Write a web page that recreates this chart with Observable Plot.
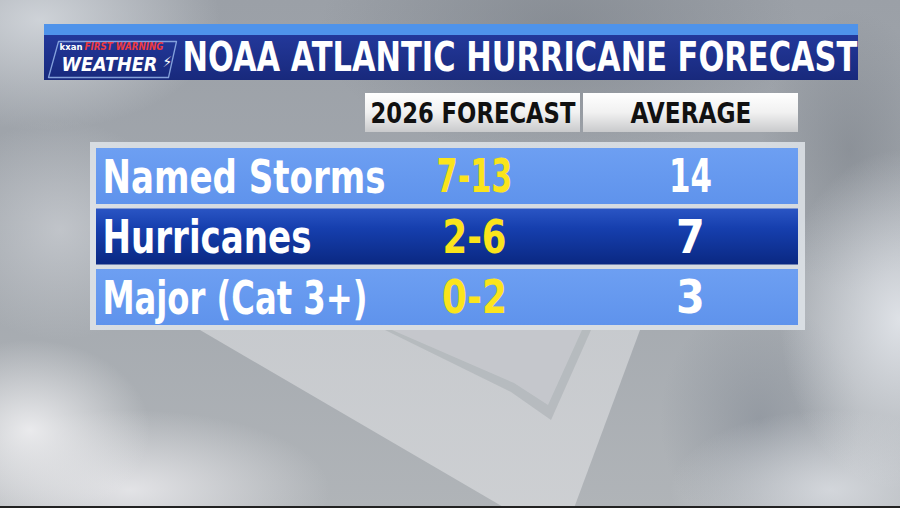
<!DOCTYPE html>
<html><head><meta charset="utf-8">
<script src="https://cdn.jsdelivr.net/npm/d3@7"></script>
<script src="https://cdn.jsdelivr.net/npm/@observablehq/plot@0.6"></script>
<style>
html,body{margin:0;padding:0;width:900px;height:508px;overflow:hidden;}
body{
  position:relative;
  background:
    radial-gradient(ellipse 120px 90px at 30px 430px, rgba(240,240,242,0.9), rgba(240,240,242,0) 100%),
    radial-gradient(ellipse 200px 80px at 130px 490px, rgba(232,232,235,0.9), rgba(232,232,235,0) 100%),
    radial-gradient(ellipse 120px 170px at 900px 320px, rgba(232,235,240,0.85), rgba(232,235,240,0) 100%),
    radial-gradient(ellipse 160px 80px at 830px 490px, rgba(220,223,228,0.8), rgba(220,223,228,0) 100%),
    radial-gradient(ellipse 180px 110px at 40px 20px, rgba(215,219,224,0.85), rgba(215,219,224,0) 100%),
    radial-gradient(ellipse 120px 110px at 60px 230px, rgba(205,208,213,0.7), rgba(205,208,213,0) 100%),
    radial-gradient(ellipse 240px 130px at 560px 30px, rgba(110,116,124,0.45), rgba(110,116,124,0) 100%),
    radial-gradient(ellipse 90px 140px at 850px 150px, rgba(110,116,124,0.4), rgba(110,116,124,0) 100%),
    radial-gradient(ellipse 100px 120px at 760px 420px, rgba(120,128,140,0.45), rgba(120,128,140,0) 100%),
    linear-gradient(180deg,#9ba0a7 0%,#a3a8ae 50%,#b0b4b8 100%);
}
.pane{position:absolute;left:0;top:0;width:900px;height:508px;}
#pane1{background:linear-gradient(180deg,rgba(200,203,207,0.75),rgba(210,212,215,0.85));clip-path:polygon(200px 330px,640px 330px,574px 508px,505px 508px);}
#pane2{background:rgba(178,182,186,0.8);clip-path:polygon(385px 330px,591px 330px,551px 420px,511px 392px);}
#pane3{background:rgba(198,201,205,0.9);clip-path:polygon(392px 330px,582px 330px,548px 405px,514px 383px);}
#bottomline{position:absolute;left:0;top:506px;width:900px;height:2px;background:#222;}
#chart{position:absolute;left:0;top:0;}
</style></head>
<body>
<div class="pane" id="pane1"></div><div class="pane" id="pane2"></div><div class="pane" id="pane3"></div>
<div id="bottomline"></div>
<div id="chart"></div>
<script>
// ---- data ----
const title = "NOAA ATLANTIC HURRICANE FORECAST";
const columns = ["2026 FORECAST", "AVERAGE"];
const categories = ["Named Storms", "Hurricanes", "Major (Cat 3+)"];
const forecast = ["7-13", "2-6", "0-2"];
const average = [14, 7, 3];
const logoSmall = ["kxan", "FIRST WARNING"];
const logoMain = "WEATHER";

// ---- layout ----
const L = {
  header: {x1: 44, x2: 858, y1: 24, yMid: 35, y2: 80},
  colBox: [{x1: 365, x2: 580}, {x1: 583, x2: 798}], colY1: 93, colY2: 132,
  frame: {x1: 90, x2: 805, y1: 142, y2: 330},
  rowX1: 96, rowX2: 798, rowTop: 148, rowStep: 60.5, rowH: 56,
  labelX: 102, forecastX: 474, averageX: 690
};
const F = "'DejaVu Sans Condensed', 'Liberation Sans', sans-serif";

const rows = categories.map((c, i) => ({
  category: c, forecast: forecast[i], average: String(average[i]), i,
  y1: L.rowTop + i * L.rowStep, y2: L.rowTop + i * L.rowStep + L.rowH,
  yc: L.rowTop + i * L.rowStep + L.rowH / 2 + 1,
  fill: i === 1 ? "url(#darkRow)" : "url(#lightRow)"
}));
const cols = columns.map((c, i) => ({name: c, ...L.colBox[i], xc: (L.colBox[i].x1 + L.colBox[i].x2) / 2}));
const logoEdge = [[58, 41], [176, 41], [168, 77], [48, 77], [58, 41]];

const chart = Plot.plot({
  width: 900, height: 508, margin: 0,
  x: {domain: [0, 900], range: [0, 900], axis: null},
  y: {domain: [0, 508], range: [0, 508], axis: null},
  style: {background: "transparent", fontFamily: F},
  marks: [
    // header bar
    Plot.rect([L.header], {x1: "x1", x2: "x2", y1: "y1", y2: "yMid", fill: "#4f93ea"}),
    Plot.rect([L.header], {x1: "x1", x2: "x2", y1: "yMid", y2: "y2", fill: "url(#headBar)"}),
    // logo
    Plot.line(logoEdge, {x: d => d[0], y: d => d[1], stroke: "#9dbdf0", strokeWidth: 1.3, strokeOpacity: 0.8}),
    Plot.text([logoSmall[0]], {x: 59, y: 46, text: d => d, fill: "white", fontSize: 9.5, fontWeight: "bold", textAnchor: "start"}),
    Plot.text([logoSmall[1]], {x: 84, y: 46, text: d => d, fill: "#ee3b3f", fontSize: 10.5, fontWeight: "bold", fontStyle: "italic", textAnchor: "start"}),
    Plot.text([logoMain], {x: 61, y: 64, text: d => d, fill: "white", fontSize: 19, fontWeight: "bold", fontStyle: "italic", textAnchor: "start"}),
    Plot.text(["⚡"], {x: 167, y: 62, text: d => d, fill: "white", fontSize: 15, textAnchor: "middle"}),
    // title
    Plot.text([title], {x: 182, y: 58, text: d => d, fill: "white", fontSize: 40, fontWeight: "bold", textAnchor: "start"}),
    // column headers
    Plot.rect(cols, {x1: "x1", x2: "x2", y1: L.colY1, y2: L.colY2, fill: "url(#colBox)"}),
    Plot.text(cols, {x: "xc", y: (L.colY1 + L.colY2) / 2 + 1, text: "name", fill: "#111", fontSize: 29, fontWeight: "bold"}),
    // table frame
    Plot.rect([L.frame], {x1: "x1", x2: "x2", y1: "y1", y2: "y2", fill: "rgba(228,232,237,0.8)"}),
    // rows
    Plot.rect(rows, {x1: L.rowX1, x2: L.rowX2, y1: "y1", y2: "y2", fill: "fill"}),
    Plot.text(rows, {x: L.labelX, y: "yc", text: "category", fill: "white", fontSize: 47, fontWeight: "bold", textAnchor: "start"}),
    Plot.text(rows, {x: L.forecastX, y: "yc", text: "forecast", fill: "#fbe41c", fontSize: 46, fontWeight: "bold"}),
    Plot.text(rows, {x: L.averageX, y: "yc", text: "average", fill: "white", fontSize: 46, fontWeight: "bold"})
  ]
});

// gradients
const svg = d3.select(chart);
const defs = svg.insert("defs", ":first-child");
function grad(id, stops) {
  const g = defs.append("linearGradient").attr("id", id).attr("x1", 0).attr("y1", 0).attr("x2", 0).attr("y2", 1);
  stops.forEach(([o, c]) => g.append("stop").attr("offset", o).attr("stop-color", c));
}
grad("headBar", [[0, "#23389a"], [1, "#18297c"]]);
grad("colBox", [[0, "#ffffff"], [0.5, "#f1f1f1"], [1, "#c9cacc"]]);
grad("lightRow", [[0, "#6d9ff2"], [1, "#5f93ec"]]);
grad("darkRow", [[0, "#2a55c4"], [0.35, "#163fae"], [1, "#0a2882"]]);

document.getElementById("chart").appendChild(chart);

// condense key texts horizontally to match the narrow broadcast typeface
const widths = {
  [title]: 675, [columns[0]]: 205, [columns[1]]: 121,
  [categories[0]]: 283, [categories[1]]: 209, [categories[2]]: 265,
  [forecast[0]]: 76, [forecast[1]]: 64, [forecast[2]]: 65, [String(average[0])]: 43,
  [logoMain]: 96, [logoSmall[0]]: 23, [logoSmall[1]]: 79
};
svg.selectAll("text").each(function() {
  const t = this.textContent;
  if (!widths[t]) return;
  const w = this.getComputedTextLength();
  if (!w) return;
  const s = widths[t] / w;
  const el = d3.select(this);
  const x = +el.attr("x") || 0, y = +el.attr("y") || 0;
  const tr = el.attr("transform") || "";
  // scale around the anchor point
  el.attr("transform", `${tr} translate(${x},${y}) scale(${s},1) translate(${-x},${-y})`);
});
</script>
</body></html>
